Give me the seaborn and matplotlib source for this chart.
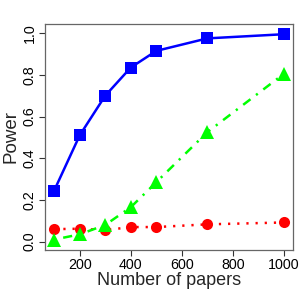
import matplotlib
matplotlib.use("Agg")
import matplotlib.pyplot as plt
import seaborn as sns

papers = [100, 200, 300, 400, 500, 700, 1000]
power_blue = [0.245, 0.51, 0.70, 0.835, 0.915, 0.975, 0.995]
power_green = [0.01, 0.035, 0.08, 0.165, 0.285, 0.525, 0.805]
power_red = [0.06, 0.062, 0.055, 0.07, 0.07, 0.083, 0.092]

x_ticks = [200, 400, 600, 800, 1000]
y_ticks = [0.0, 0.2, 0.4, 0.6, 0.8, 1.0]

sns.set_style("white")
plt.rcParams["font.family"] = ["Liberation Sans", "DejaVu Sans"]
plt.rcParams["lines.scale_dashes"] = False

fig = plt.figure(figsize=(3, 3), dpi=100)
ax = fig.add_axes([0.15, 0.1667, 0.8267, 0.7533])

sns.lineplot(x=papers, y=power_blue, ax=ax, color="#0000ff", marker="s",
             markersize=8, markeredgewidth=0, linewidth=1.8, zorder=3)
sns.lineplot(x=papers, y=power_red, ax=ax, color="#ff0000", marker="o",
             markersize=8, markeredgewidth=0, linewidth=1.8,
             linestyle=(0, (1.6, 5.0)), zorder=3)
sns.lineplot(x=papers, y=power_green, ax=ax, color="#00ff00", marker="^",
             markersize=10, markeredgewidth=0, linewidth=1.8,
             linestyle=(0, (1.6, 5.0, 6.6, 5.0)), zorder=4)

ax.set_xlim(64, 1036)
ax.set_ylim(-0.04, 1.044)
ax.set_xticks(x_ticks)
ax.set_xticklabels([str(v) for v in x_ticks])
ax.set_yticks(y_ticks)
ax.set_yticklabels([f"{v:.1f}" for v in y_ticks], rotation=90, va="center")
ax.tick_params(axis="both", direction="out", length=4, width=0.8,
               color="#333333", labelsize=10.3, labelcolor="black", pad=2,
               left=True, bottom=True)
for sp in ax.spines.values():
    sp.set_color("#666666")
    sp.set_linewidth(0.9)
ax.set_xlabel("Number of papers", fontsize=13, labelpad=0)
ax.set_ylabel("Power", fontsize=13.5, labelpad=2)

fig.savefig("out.png", dpi=100)
